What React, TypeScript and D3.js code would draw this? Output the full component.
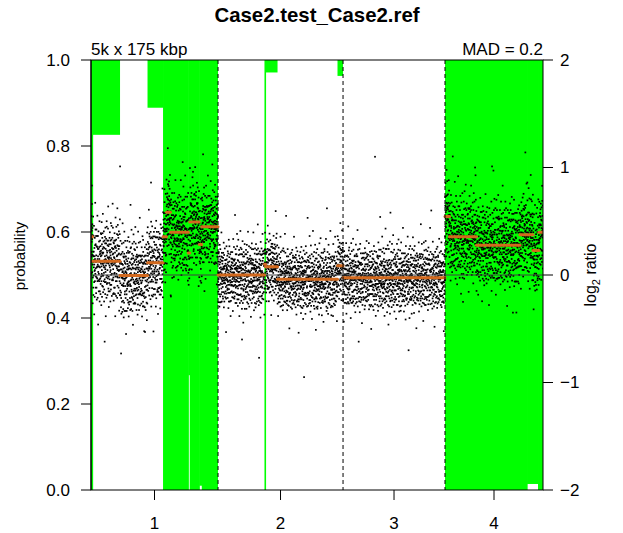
import React from "react";
import * as d3 from "d3";

const titleText = "Case2.test_Case2.ref";
const binText = "5k x 175 kbp";
const madText = "MAD = 0.2";

const chromNames = ["1", "2", "3", "4"];
const chromBins = [1400, 1378, 1124, 1080];
const chromSpread = [0.26, 0.205, 0.205, 0.265];

const probTicks = [0, 0.2, 0.4, 0.6, 0.8, 1];
const ratioTicks = [-2, -1, 0, 1, 2];

// segments: [startBin, endBin, log2 ratio]
const segments: [number, number, number][] = [
  [0, 17, 0.356], [17, 320, 0.127], [320, 623, -0.004], [623, 794, 0.114],
  [794, 832, 0.356], [832, 876, 0.583], [876, 1072, 0.398], [1072, 1088, 0.205],
  [1088, 1193, 0.493], [1193, 1221, 0.284], [1221, 1400, 0.449],
  [1400, 1912, 0.0], [1912, 1923, 0.1], [1923, 2056, 0.077], [2056, 2717, -0.04], [2717, 2778, 0.087],
  [2778, 3902, -0.025],
  [3902, 3951, 0.545], [3951, 4249, 0.355], [4249, 4728, 0.276], [4728, 4872, 0.375],
  [4872, 4938, 0.227], [4938, 4982, 0.397],
];

// probability of gain: [startBin, endBin, prob]
const gainProb: [number, number, number][] = [
  [0, 17, 1], [17, 320, 0.174], [623, 794, 0.111], [794, 1072, 1], [1072, 1088, 0.733],
  [1088, 1193, 1], [1193, 1221, 0.99], [1221, 1400, 1],
  [1912, 1923, 1], [1923, 2056, 0.029], [2717, 2778, 0.037],
  [3902, 4806, 1], [4806, 4927, 0.986], [4927, 4982, 1],
];

// isolated outlying bins: [bin, log2 ratio]
const outliers: [number, number][] = [
  [320, 1.01], [331, -0.73], [661, 0.86], [1124, 0.96], [595, -0.53], [1664, -0.6],
  [1852, -0.77], [2348, -0.95], [3130, 1.1], [4233, 1.0], [4420, 1.01], [1010, 1.05],
  [2600, 0.62], [3500, -0.7], [4650, -0.35], [150, -0.62], [880, -0.2], [1250, -0.15],
  [2150, 0.55], [2950, -0.62], [3300, 0.58], [3750, 0.6], [4100, -0.25], [4800, 0.85],
];

// per-bin noise residual codes (a..t, centred between j and k)
const noiseCodes =
  "kigmjlhjkpnijglkhmfjiklohjgkmiljnkhejlikgmjhklqijn" +
  "hljkimgkjnhlifjkmlijohkgjlmkdijhnlkgijmhlkjoifkgjl" +
  "mjikglhknjlimfhjkoijlgkhmjinlkpjhgiklmjkhnijfglkjm" +
  "ijhkmlgjnkilehjkmljigkonhljikmgjlhkijnmpkhljgifkjl" +
  "lkhjmignjklihfmkjlogkijhlmnkjgilhjkmijqklnhgjkimlf" +
  "gjlkhimjknilhgkjmeliojkhljgmknijlhkjmigkplhjinkmjl" +
  "gmjkhlinkjeiljhkmgojlkihjnmkljgihkfljmkinhjlgkjmpi" +
  "kljhigmknjflikhjmolgkjhilmnjkgihljkmdjlinkhgjmkilj" +
  "njhkligmjkhloijfkmljghkinljmkhjigklrmjhikngljkoilh" +
  "ilmkjhgnjkliehkjmlogjikhnljmikgjhlkmijpglhnkjimlkj" +
  "hgkljminkjlihfjmkglojkihlmnjkgiljhkmjqilgknhjmlijk" +
  "mkijlghjnkilfmhjkolijgkhnmljkigjhlmkdijlkhgnimkjlj" +
  "jlghkimjnlkihjmfkloigjkhlnmkjigljhkmipjlkgnihmjklj" +
  "lihjkgmnjkliohfjkmlgijkhnljmikgjlhkmijcglkhnjmilkj" +
  "kjmhlignjklhimfjklogijhkmnljkigjhlmkijelkhgnjimklj" +
  "ihlkjmgnkjlihfjmkolgijkhmnjlkigjhlkmjsilkhgnjmikjl";

// fine residual digits (0..9) that spread each coarse level
const fineDigits =
  "7302918465507139284626081935740381726495150827369418203756941628307514982063751849230764185293067";

const W = 623;
const H = 533;
const L = 91, R = 543, T = 60, B = 490;
const FONT = "'Liberation Sans', Arial, Helvetica, sans-serif";

export default function App() {
  const total = d3.sum(chromBins);
  const starts = chromBins.map((_, i) => d3.sum(chromBins.slice(0, i)));
  const x = d3.scaleLinear().domain([0, total]).range([L, R]);
  const yP = d3.scaleLinear().domain([0, 1]).range([B, T]);
  const yR = d3.scaleLinear().domain([-2, 2]).range([B, T]);

  const segAt = (b: number) => {
    const s = segments.find((sg) => b >= sg[0] && b < sg[1]);
    return s ? s[2] : 0;
  };

  const pts: [number, number][] = [];
  chromBins.forEach((n, c) => {
    for (let k = 0; k < n; k++) {
      const b = starts[c] + k;
      const code = noiseCodes.charCodeAt(b % noiseCodes.length) - 97;
      const fine = fineDigits.charCodeAt(b % fineDigits.length) - 48;
      const z = (code - 9.5 + (fine - 4.5) / 10) * 0.33;
      pts.push([b + 0.5, segAt(b) + z * chromSpread[c]]);
    }
  });
  outliers.forEach((o) => pts.push([o[0] + 0.5, o[1]]));

  const ds = 1.7;

  return (
    <svg width={W} height={H} style={{ position: "absolute", left: 0, top: 0, background: "#fff" }} fontFamily={FONT}>
      <defs>
        <clipPath id="plotclip">
          <rect x={L} y={T} width={R - L} height={B - T} />
        </clipPath>
      </defs>
      <rect x={0} y={0} width={W} height={H} fill="#fff" />
      <g clipPath="url(#plotclip)">
        {gainProb.map((g, i) => {
          const next = gainProb[i + 1];
          const touches = next && next[0] === g[1];
          return (
            <rect key={"g" + i} x={x(g[0])} y={yP(1)} width={x(g[1]) - x(g[0]) + (touches ? 0.6 : 0)} height={yP(1 - g[2]) - yP(1)} fill="#00ff00" />
          );
        })}
        {pts.map((p, i) => (
          <rect key={"p" + i} x={x(p[0]) - ds / 2} y={yR(p[1]) - ds / 2} width={ds} height={ds} fill="#000" />
        ))}
        <line x1={L} x2={R} y1={yR(0)} y2={yR(0)} stroke="#404040" strokeWidth={1.2} />
        {segments.map((s, i) => (
          <line key={"s" + i} x1={x(s[0])} x2={x(s[1])} y1={yR(s[2])} y2={yR(s[2])} stroke="#D2691E" strokeWidth={3} strokeLinecap="round" />
        ))}
        {starts.slice(1).map((s, i) => (
          <line key={"c" + i} x1={x(s)} x2={x(s)} y1={T} y2={B} stroke="#000" strokeWidth={1} strokeDasharray="4,3" />
        ))}
      </g>
      <rect x={L} y={T} width={R - L} height={B - T} fill="none" stroke="#000" strokeWidth={1} />
      {/* left axis */}
      <line x1={L} x2={L} y1={yP(0)} y2={yP(1)} stroke="#000" />
      {probTicks.map((t) => (
        <g key={"lt" + t}>
          <line x1={L - 10} x2={L} y1={yP(t)} y2={yP(t)} stroke="#000" />
          <text x={L - 21} y={yP(t)} dy="0.35em" textAnchor="end" fontSize={17}>{t.toFixed(1)}</text>
        </g>
      ))}
      {/* right axis */}
      {ratioTicks.map((t) => (
        <g key={"rt" + t}>
          <line x1={R} x2={R + 10} y1={yR(t)} y2={yR(t)} stroke="#000" />
          <text x={R + 17} y={yR(t)} dy="0.35em" textAnchor="start" fontSize={17}>{t < 0 ? "\u2212" + Math.abs(t) : String(t)}</text>
        </g>
      ))}
      {/* bottom axis */}
      {chromNames.map((c, i) => {
        const cx = x(starts[i] + chromBins[i] / 2);
        return (
          <g key={"bt" + c}>
            <line x1={cx} x2={cx} y1={B} y2={B + 10} stroke="#000" />
            <text x={cx} y={529} textAnchor="middle" fontSize={17}>{c}</text>
          </g>
        );
      })}
      <text x={(L + R) / 2} y={22} textAnchor="middle" fontSize={20.4} fontWeight="bold">{titleText}</text>
      <text x={L} y={55} textAnchor="start" fontSize={17}>{binText}</text>
      <text x={R} y={55} textAnchor="end" fontSize={17}>{madText}</text>
      <text transform={`translate(25,256) rotate(-90)`} textAnchor="middle" fontSize={15}>probability</text>
      <text transform={`translate(596,${(T + B) / 2}) rotate(-90)`} textAnchor="middle" fontSize={16}>
        log<tspan fontSize={11} dy={4}>2</tspan><tspan dy={-4}> ratio</tspan>
      </text>
    </svg>
  );
}
